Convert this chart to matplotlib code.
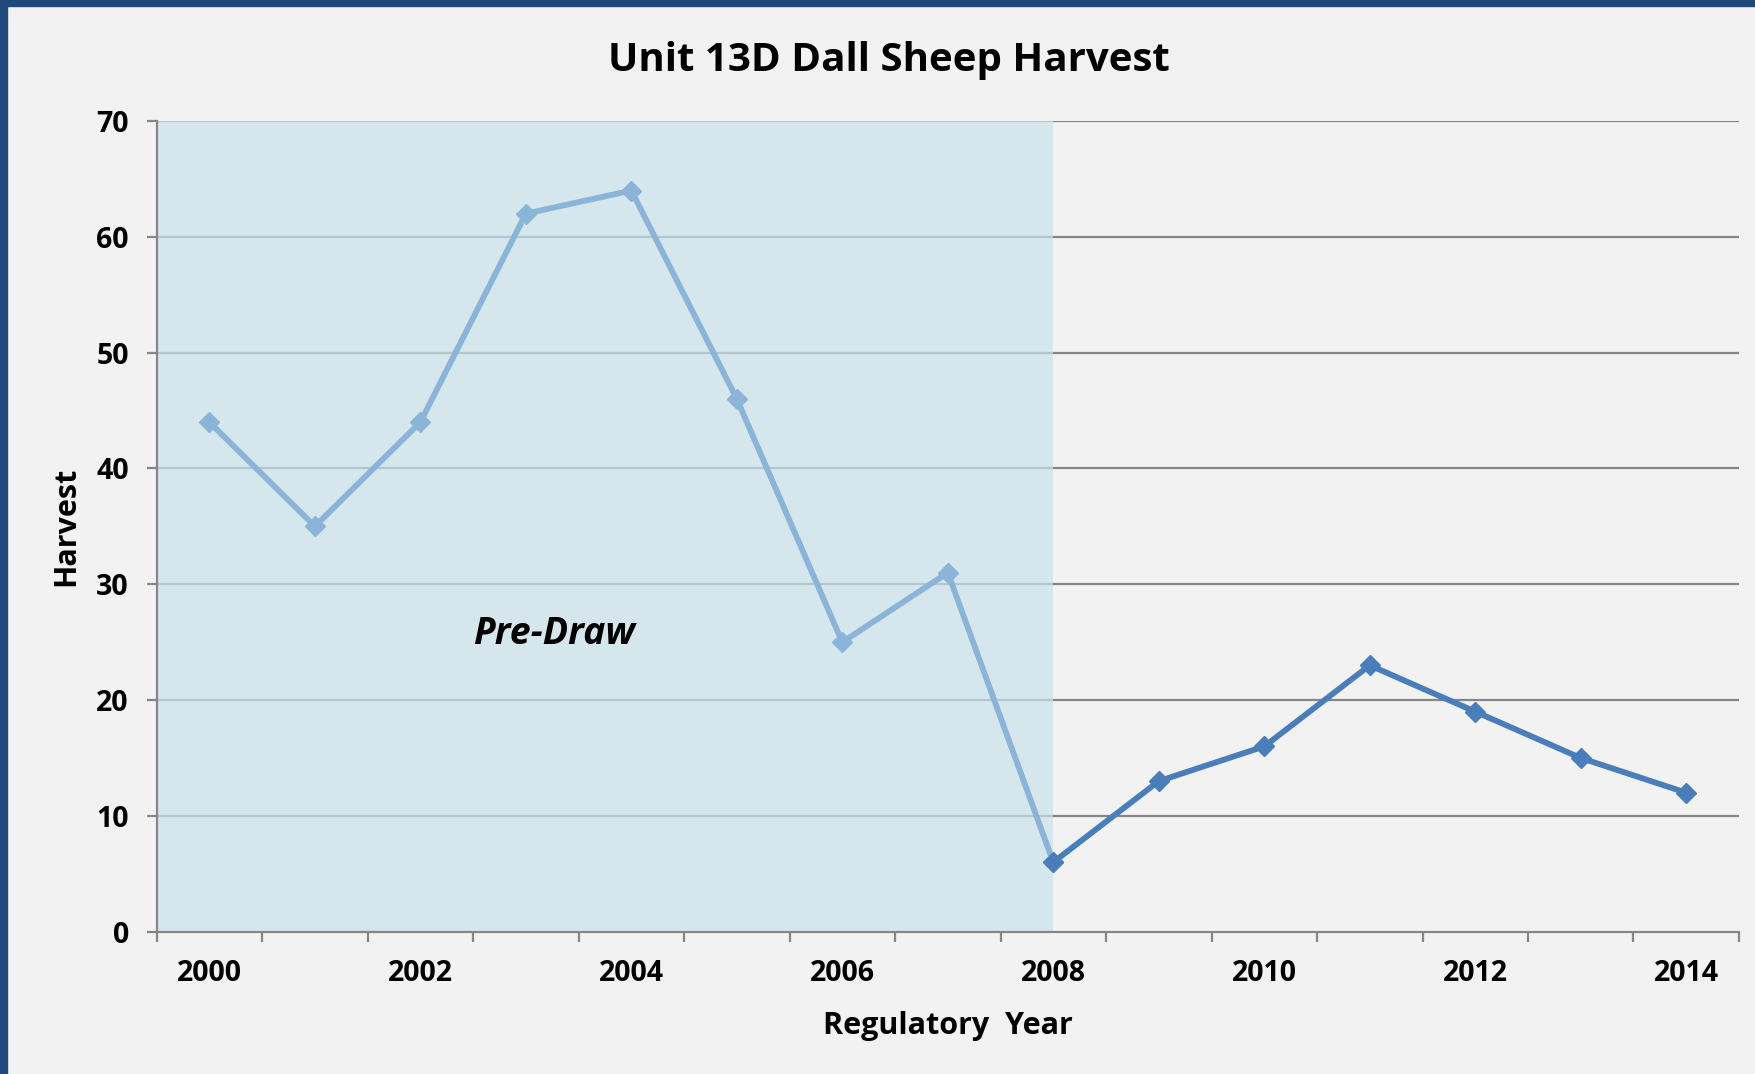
import matplotlib.pyplot as plt
from matplotlib.patches import Rectangle

years = list(range(2000, 2015))
harvest = [44, 35, 44, 62, 64, 46, 25, 31, 6, 13, 16, 23, 19, 15, 12]
draw_start = 2008  # first year of the drawing permit hunt

plt.rcParams['font.family'] = ['Open Sans', 'DejaVu Sans']

fig = plt.figure(figsize=(17.56, 10.74), dpi=100, facecolor='#F2F2F2')
ax = fig.add_axes([0.0892, 0.1325, 0.9011, 0.7548])
ax.set_facecolor('#F2F2F2')

# frame border of the slide
fig.patches.append(Rectangle((0, 0), 0.004, 1, transform=fig.transFigure,
                             color='#1F497D', zorder=10))
fig.patches.append(Rectangle((0, 0.9945), 1, 0.0055, transform=fig.transFigure,
                             color='#1F497D', zorder=10))

idx = list(range(len(years)))
split = years.index(draw_start)

ax.set_xlim(-0.5, len(years) - 0.5)
ax.set_ylim(0, 70)

# gridlines
for v in range(10, 71, 10):
    ax.axhline(v, color='#868686', lw=1.6, zorder=1)

# pre-draw shading
ax.axvspan(-0.5, split, color='#C9E2EC', alpha=0.7, lw=0, zorder=2)
ax.text(3.27, 25.7, 'Pre-Draw', fontsize=27, fontweight='bold', style='italic',
        ha='center', va='center', zorder=3)

ax.plot(idx[:split + 1], harvest[:split + 1], color='#8AB4D8', lw=4.2,
        marker='D', markersize=10.5, zorder=4)
ax.plot(idx[split:], harvest[split:], color='#4A7EBB', lw=4.2,
        marker='D', markersize=10.5, zorder=5)

# axes styling
for side in ['top', 'right']:
    ax.spines[side].set_visible(False)
for side in ['left', 'bottom']:
    ax.spines[side].set_color('#868686')
    ax.spines[side].set_linewidth(1.6)
    ax.spines[side].set_zorder(6)

ax.set_yticks(range(0, 71, 10))
ax.tick_params(axis='y', length=7, width=1.6, color='#868686', pad=13,
               labelsize=20.5)
for lab in ax.get_yticklabels():
    lab.set_fontweight('bold')

ax.set_xticks(idx[::2])
ax.set_xticklabels([str(y) for y in years[::2]], fontsize=20.5, fontweight='bold')
ax.set_xticks([i - 0.5 for i in range(len(years) + 1)], minor=True)
ax.tick_params(axis='x', which='major', length=0, pad=20)
ax.tick_params(axis='x', which='minor', length=7, width=1.6, color='#868686')

ax.set_xlabel('Regulatory  Year', fontsize=22, fontweight='bold', labelpad=16)
ax.set_ylabel('Harvest', fontsize=22, fontweight='bold', labelpad=11)
fig.text(0.506, 0.944, 'Unit 13D Dall Sheep Harvest', fontsize=29,
         fontweight='bold', ha='center', va='center')

fig.savefig('out.png', dpi=100, facecolor=fig.get_facecolor())
